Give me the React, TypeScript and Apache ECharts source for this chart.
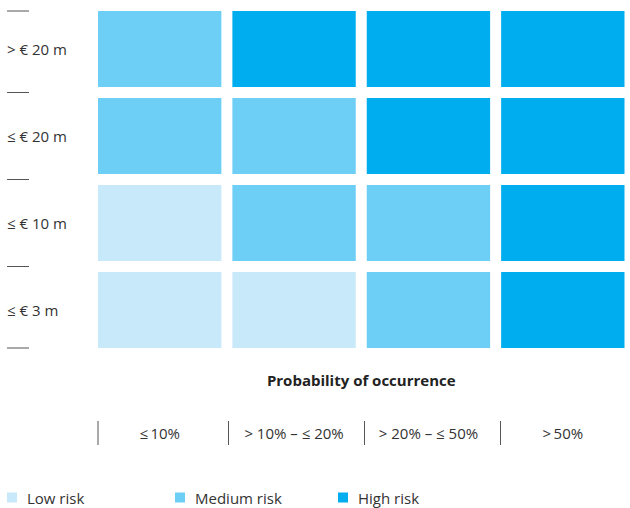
import React, { useEffect, useRef } from "react";
import * as echarts from "echarts";

const probabilityCategories = ["≤\u200910%", "> 10% – ≤ 20%", "> 20% – ≤ 50%", ">\u200950%"];
const damageCategories = ["> € 20 m", "≤ € 20 m", "≤ € 10 m", "≤ € 3 m"];
const riskLevels = ["Low risk", "Medium risk", "High risk"];
// risk level index (0 low, 1 medium, 2 high); rows top→bottom, columns left→right
const riskMatrix = [
  [1, 2, 2, 2],
  [1, 1, 2, 2],
  [0, 1, 1, 2],
  [0, 0, 1, 2],
];
const riskColors = ["#c7e9f9", "#6dcff6", "#00adee"];

const FONT = "'Open Sans', sans-serif";
const TEXT = "#333333";
const FS = 15;
const GRID_LEFT = 92.5;
const GRID_TOP = 5.5;
const BAND_W = 136;
const BAND_H = 87;
const GAP = 11;

export default function App() {
  const ref = useRef<HTMLDivElement>(null);

  useEffect(() => {
    if (!ref.current) return;
    const chart = echarts.init(ref.current, undefined, { renderer: "svg" });

    const series = riskLevels.map((name, level) => {
      const data: number[][] = [];
      riskMatrix.forEach((row, r) =>
        row.forEach((v, c) => {
          if (v === level) data.push([c, r]);
        })
      );
      return {
        type: "custom",
        name,
        itemStyle: { color: riskColors[level] },
        encode: { x: 0, y: 1 },
        clip: false,
        data,
        renderItem: (params: any, api: any) => {
          const p = api.coord([api.value(0), api.value(1)]);
          const s = api.size([1, 1]);
          return {
            type: "rect",
            shape: {
              x: p[0] - s[0] / 2 + GAP / 2,
              y: p[1] - s[1] / 2 + GAP / 2,
              width: s[0] - GAP,
              height: s[1] - GAP,
            },
            style: { fill: api.visual("color") },
          };
        },
      };
    });

    const rules: any[] = [];
    for (let i = 0; i <= damageCategories.length; i++) {
      let y = GRID_TOP + i * BAND_H;
      if (i === 0) y += GAP / 2;
      if (i === damageCategories.length) y -= GAP / 2;
      rules.push({
        type: "line",
        shape: { x1: 7, y1: y, x2: 29, y2: y },
        style: { stroke: "#555", lineWidth: 1 },
      });
    }
    for (let i = 0; i < probabilityCategories.length; i++) {
      let x = GRID_LEFT + i * BAND_W;
      if (i === 0) x += GAP / 2;
      rules.push({
        type: "line",
        shape: { x1: x, y1: 421, x2: x, y2: 445 },
        style: { stroke: "#555", lineWidth: 1 },
      });
    }

    const legendBase = {
      top: 490,
      padding: 0,
      itemWidth: 10,
      itemHeight: 10,
      icon: "rect",
      textStyle: { fontFamily: FONT, fontSize: FS, color: TEXT, padding: [0, 0, 0, 5] },
    };

    const hidden = {
      axisLine: { show: false },
      axisTick: { show: false },
      splitLine: { show: false },
    };

    chart.setOption({
      animation: false,
      textStyle: { fontFamily: FONT },
      grid: {
        left: GRID_LEFT,
        top: GRID_TOP,
        width: BAND_W * probabilityCategories.length,
        height: BAND_H * damageCategories.length,
      },
      xAxis: [
        {
          type: "category",
          data: probabilityCategories,
          ...hidden,
          axisLabel: { margin: 72, fontSize: FS, color: TEXT, fontFamily: FONT, interval: 0 },
        },
        {
          type: "category",
          data: probabilityCategories,
          position: "bottom",
          ...hidden,
          axisLabel: { show: false },
          name: "Probability of occurrence",
          nameLocation: "middle",
          nameGap: 19,
          nameTextStyle: { fontWeight: "bold", fontSize: FS, color: "#222", fontFamily: FONT },
        },
      ],
      yAxis: {
        type: "category",
        data: damageCategories,
        inverse: true,
        ...hidden,
        axisLabel: { align: "left", margin: 85.5, fontSize: FS, color: TEXT, fontFamily: FONT },
      },
      legend: [
        { ...legendBase, left: 7, data: [riskLevels[0]] },
        { ...legendBase, left: 175, data: [riskLevels[1]] },
        { ...legendBase, left: 338, data: [riskLevels[2]] },
      ],
      graphic: rules,
      series,
    });

    return () => chart.dispose();
  }, []);

  return (
    <div
      ref={ref}
      style={{ position: "absolute", left: 0, top: 0, width: 630, height: 508 }}
    />
  );
}
